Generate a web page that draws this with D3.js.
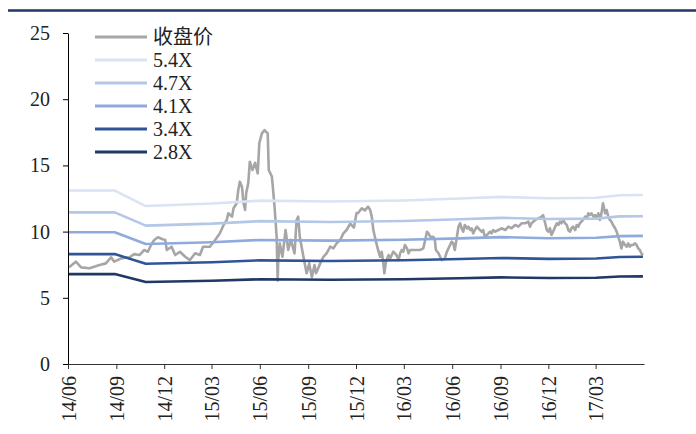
<!DOCTYPE html>
<html>
<head>
<meta charset="utf-8">
<script src="https://cdn.jsdelivr.net/npm/d3@7"></script>
<style>
  html, body { margin: 0; padding: 0; background: #fff; }
  svg { display: block; }
</style>
</head>
<body>
<svg id="chart" width="696" height="434"></svg>
<script>
// ---------------- DATA ----------------
const seriesNames = ["收盘价", "5.4X", "4.7X", "4.1X", "3.4X", "2.8X"];
const yTicks = [0, 5, 10, 15, 20, 25];
const xTickLabels = ["14/06","14/09","14/12","15/03","15/06","15/09","15/12","16/03","16/06","16/09","16/12","17/03"];

const priceDates = [
"2014-06-03","2014-06-16","2014-06-26","2014-07-12","2014-07-31","2014-08-12","2014-08-22","2014-08-28",
"2014-09-10","2014-09-26","2014-10-05","2014-10-15","2014-10-24","2014-10-31","2014-11-06","2014-11-12",
"2014-11-19","2014-11-28","2014-12-03","2014-12-06","2014-12-15","2014-12-22","2014-12-31","2015-01-10",
"2015-01-19","2015-01-29","2015-02-07","2015-02-13","2015-02-26","2015-03-08","2015-03-17","2015-03-24",
"2015-03-30","2015-04-02","2015-04-09","2015-04-12","2015-04-18","2015-04-21","2015-04-24","2015-04-28",
"2015-05-01","2015-05-04","2015-05-06","2015-05-10","2015-05-13","2015-05-18","2015-05-23","2015-05-28",
"2015-05-31","2015-06-05","2015-06-10","2015-06-16","2015-06-18","2015-06-24","2015-06-29","2015-07-03",
"2015-07-05","2015-07-06","2015-07-09","2015-07-14","2015-07-20","2015-07-25","2015-07-30","2015-08-06",
"2015-08-10","2015-08-13","2015-08-16","2015-08-23","2015-08-29","2015-09-03","2015-09-08","2015-09-13",
"2015-09-16","2015-09-24","2015-09-30","2015-10-06","2015-10-13","2015-10-19","2015-10-25","2015-11-01",
"2015-11-07","2015-11-13","2015-11-20","2015-11-27","2015-12-02","2015-12-05","2015-12-12","2015-12-18",
"2015-12-24","2015-12-28","2015-12-31","2016-01-03","2016-01-08","2016-01-12","2016-01-16","2016-01-19",
"2016-01-22","2016-01-24","2016-01-27","2016-02-01","2016-02-04","2016-02-10","2016-02-16","2016-02-20",
"2016-02-23","2016-02-26","2016-02-29","2016-03-03","2016-03-07","2016-03-10","2016-03-13","2016-03-19",
"2016-04-01","2016-04-07","2016-04-10","2016-04-14","2016-04-17","2016-04-20","2016-04-26","2016-04-29",
"2016-05-01","2016-05-06","2016-05-12","2016-05-18","2016-05-22","2016-05-25","2016-05-28","2016-05-31",
"2016-06-03","2016-06-06","2016-06-10","2016-06-13","2016-06-16","2016-06-19","2016-06-22","2016-06-25",
"2016-06-29","2016-07-02","2016-07-05","2016-07-08","2016-07-11","2016-07-14","2016-07-18","2016-07-21",
"2016-07-24","2016-07-27","2016-07-30","2016-08-02","2016-08-06","2016-08-09","2016-08-12","2016-08-15",
"2016-08-18","2016-08-22","2016-08-28","2016-09-03","2016-09-10","2016-09-16","2016-09-22","2016-09-29",
"2016-10-05","2016-10-11","2016-10-18","2016-10-24","2016-10-27","2016-10-30","2016-11-06","2016-11-12",
"2016-11-18","2016-11-21","2016-11-25","2016-11-28","2016-12-01","2016-12-04","2016-12-07","2016-12-10",
"2016-12-14","2016-12-17","2016-12-20","2016-12-23","2016-12-26","2016-12-29","2017-01-02","2017-01-05",
"2017-01-08","2017-01-11","2017-01-14","2017-01-17","2017-01-21","2017-01-24","2017-01-27","2017-01-30",
"2017-02-02","2017-02-05","2017-02-09","2017-02-12","2017-02-15","2017-02-18","2017-02-21","2017-02-25",
"2017-02-28","2017-03-03","2017-03-06","2017-03-09","2017-03-12","2017-03-15","2017-03-19","2017-03-22",
"2017-03-25","2017-03-28","2017-03-31","2017-04-03","2017-04-07","2017-04-10","2017-04-13","2017-04-16",
"2017-04-19","2017-04-22","2017-04-26","2017-04-29","2017-05-02","2017-05-05","2017-05-08","2017-05-11",
"2017-05-15","2017-05-18","2017-05-21","2017-05-24","2017-05-27","2017-05-30"
];
const priceValues = [
7.30,7.73,7.30,7.23,7.48,7.60,8.06,7.73,
7.98,8.06,8.30,8.23,8.61,8.48,8.99,9.37,
9.57,9.42,9.37,8.61,8.86,8.23,8.48,8.10,
7.85,8.36,8.23,8.86,8.86,9.37,9.87,10.50,
10.88,11.38,11.13,11.76,12.14,13.14,13.77,13.39,
12.14,11.63,12.89,13.65,15.28,14.65,15.20,14.40,
16.67,17.42,17.67,17.42,14.65,14.15,11.88,9.61,
6.30,7.85,9.11,8.10,10.12,8.61,9.37,8.36,
10.88,11.13,9.61,8.10,6.85,7.60,6.55,7.48,
6.85,7.60,8.10,8.36,8.86,8.73,9.11,9.37,
9.87,10.12,10.60,10.30,11.40,11.40,11.76,11.60,
11.88,11.63,11.13,10.12,9.24,8.61,8.10,8.48,
7.60,6.85,7.73,8.23,7.98,8.48,8.23,7.85,
8.36,8.61,8.48,8.99,8.73,8.36,8.61,8.61,
8.61,8.73,9.24,9.99,9.87,9.61,9.61,9.37,
8.61,8.36,7.85,7.98,8.48,8.73,8.99,9.24,
9.11,8.61,9.61,10.37,10.63,10.25,9.99,10.50,
10.25,10.37,10.12,10.25,9.87,10.12,10.37,10.25,
10.12,9.99,10.12,9.61,9.74,9.87,9.99,9.87,
10.12,9.99,10.12,10.25,10.12,10.37,10.25,10.50,
10.37,10.63,10.63,10.75,10.37,10.63,10.88,11.00,
11.13,11.25,10.63,10.12,9.99,10.25,9.74,9.99,
10.37,10.63,10.50,10.75,10.63,10.88,10.63,10.50,
10.12,9.99,10.25,10.37,10.12,10.50,10.37,10.63,
10.75,10.88,11.13,11.00,11.38,11.25,11.38,11.13,
11.25,11.00,11.38,10.88,11.38,12.14,11.38,11.63,
11.13,10.88,10.75,10.50,10.25,9.99,9.61,9.24,
8.73,9.24,8.99,8.86,9.11,8.86,8.99,8.99,
9.11,8.99,8.73,8.61,8.36,8.23
];

const bandDates = ["2014-06-01","2014-08-29","2014-10-27","2015-03-02","2015-06-01","2015-10-13","2016-03-01",
                   "2016-06-16","2016-09-02","2016-12-02","2017-03-02","2017-04-16","2017-05-30"];
const band54 = [13.10,13.10,11.93,12.12,12.34,12.27,12.35,12.50,12.62,12.52,12.56,12.74,12.76];
const band47 = [11.45,11.45,10.45,10.60,10.79,10.73,10.80,10.93,11.04,10.95,10.98,11.15,11.16];
const band41 = [9.95,9.95,9.06,9.20,9.37,9.32,9.38,9.49,9.58,9.50,9.53,9.66,9.68];
const band34 = [8.30,8.30,7.57,7.69,7.83,7.78,7.84,7.93,8.01,7.94,7.97,8.08,8.10];
const band28 = [6.79,6.79,6.19,6.29,6.40,6.36,6.40,6.48,6.54,6.49,6.51,6.61,6.62];

// ---------------- CHART ----------------
const colors = ["#a6a6a6", "#dae3f3", "#b4c7e7", "#8faadc", "#2f5597", "#203864"];
const parse = d3.timeParse("%Y-%m-%d");
const svg = d3.select("#chart");
const serif = "'Liberation Serif','Times New Roman','Noto Sans CJK SC',serif";

// top rule
svg.append("line").attr("x1", 8).attr("x2", 696).attr("y1", 10.5).attr("y2", 10.5)
  .attr("stroke", "#1f3864").attr("stroke-width", 2.4);

const x = d3.scaleTime().domain([new Date(2014, 5, 1), new Date(2017, 5, 1)]).range([68, 644]);
const y = d3.scaleLinear().domain([0, 25]).range([364, 33]);

const line = d3.line().x(d => x(d.date)).y(d => y(d.value));

const priceData = priceDates.map((d, i) => ({ date: parse(d), value: priceValues[i] }));
const bands = [band54, band47, band41, band34, band28].map(arr =>
  bandDates.map((d, i) => ({ date: parse(d), value: arr[i] })));

const plot = svg.append("g");
plot.append("path").datum(priceData).attr("d", line)
  .attr("fill", "none").attr("stroke", colors[0]).attr("stroke-width", 2.6)
  .attr("stroke-linejoin", "round");
bands.forEach((b, i) => {
  plot.append("path").datum(b).attr("d", line)
    .attr("fill", "none").attr("stroke", colors[i + 1]).attr("stroke-width", 2.6)
    .attr("stroke-linejoin", "round");
});

// axes
const yAxis = svg.append("g").attr("transform", "translate(68,0)")
  .call(d3.axisLeft(y).tickValues(yTicks).tickSize(5).tickSizeOuter(0).tickPadding(13).tickFormat(d3.format("d")));
yAxis.selectAll("path,line").attr("stroke", "#000").attr("stroke-width", 1);
yAxis.selectAll("text").attr("font-family", serif).attr("font-size", 20).attr("fill", "#222");

const xTickDates = xTickLabels.map(s => d3.timeParse("%y/%m")(s));
const xAxis = svg.append("g").attr("transform", "translate(0,364)")
  .call(d3.axisBottom(x).tickValues(xTickDates).tickSize(5).tickSizeOuter(0)
    .tickFormat((d, i) => xTickLabels[i]));
xAxis.selectAll("path,line").attr("stroke", "#333").attr("stroke-width", 1);
xAxis.selectAll("text")
  .attr("font-family", serif).attr("font-size", 20).attr("fill", "#222")
  .attr("transform", "rotate(-90)")
  .attr("text-anchor", "end")
  .attr("x", -12).attr("y", 0).attr("dy", "0.35em");

// legend
const legend = svg.append("g");
seriesNames.forEach((name, i) => {
  const yy = 37 + i * 23;
  legend.append("line").attr("x1", 95).attr("x2", 147).attr("y1", yy).attr("y2", yy)
    .attr("stroke", colors[i]).attr("stroke-width", 3);
  legend.append("text").attr("x", 153).attr("y", yy).attr("dy", "0.35em")
    .attr("font-family", serif).attr("font-size", 20).attr("fill", "#222")
    .text(name);
});
</script>
</body>
</html>
